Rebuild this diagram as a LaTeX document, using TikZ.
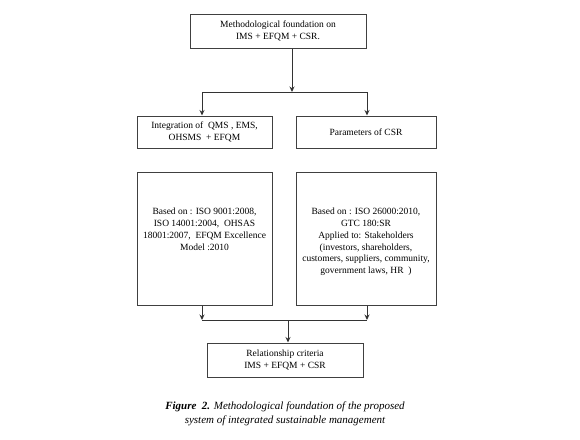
\documentclass[tikz,border=0pt]{standalone}
\usepackage{fontspec}
\setmainfont{Liberation Serif}
\usetikzlibrary{arrows.meta}
\begin{document}
\begin{tikzpicture}[x=1pt,y=-1pt,
  box/.style={draw=black!75, line width=1pt, inner sep=0pt, align=center, font=\fontsize{9.5}{12}\selectfont},
  txt/.style={inner sep=0pt, align=center, font=\fontsize{9.5}{11.8}\selectfont},
  conn/.style={draw=black!80, line width=1pt},
  arr/.style={conn, -{Stealth[length=5.5pt,width=5pt]}}]
\useasboundingbox (0,0) rectangle (580,439);
\node[box, minimum width=176, minimum height=34] (top) at (278,31) {Methodological foundation on\\IMS + EFQM + CSR.};
\node[box, minimum width=135, minimum height=32] (ims) at (204.5,132) {Integration of \ QMS , EMS,\\OHSMS \ + EFQM};
\node[box, minimum width=140, minimum height=32] (csr) at (366,132) {Parameters of CSR};
\node[box, minimum width=135, minimum height=133] (bl) at (204.5,238.5) {};
\node[box, minimum width=140, minimum height=133] (br) at (366,238.5) {};
\node[txt, anchor=north] (tl) at (204.5,208) {Based on : ISO 9001:2008,\\ISO 14001:2004, \ OHSAS\\18001:2007, \ EFQM Excellence\\Model :2010};
\node[txt, anchor=north] (tr) at (366,208) {Based on : ISO 26000:2010,\\GTC 180:SR\\Applied to: Stakeholders\\(investors, shareholders,\\customers, suppliers, community,\\government laws, HR \ )};
\node[box, minimum width=156, minimum height=34] (rel) at (285,360) {Relationship criteria\\IMS + EFQM + CSR};
\coordinate (j1) at (292,92);
\coordinate (j1l) at (202,92);
\coordinate (j1r) at (367,92);
\coordinate (j2) at (288,320);
\coordinate (j2l) at (202,320);
\coordinate (j2r) at (367,320);
\draw[arr] (top.south -| j1) -- (j1);
\draw[conn] (j1l) -- (j1r);
\draw[arr] (j1l) -- (j1l |- ims.north);
\draw[arr] (j1r) -- (j1r |- csr.north);
\draw[arr] (j2l |- bl.south) -- (j2l);
\draw[arr] (j2r |- br.south) -- (j2r);
\draw[conn] (j2l) -- (j2r);
\draw[arr] (j2) -- (j2 |- rel.north);
\node[inner sep=0pt, align=center, font=\fontsize{11}{14}\selectfont\itshape] (cap) at (285,414) {\textbf{Figure \ 2.} Methodological foundation of the proposed\\system of integrated sustainable management};
\end{tikzpicture}
\end{document}
